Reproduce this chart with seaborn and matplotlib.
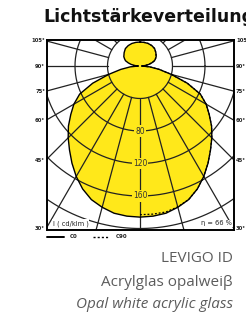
import numpy as np
import matplotlib
matplotlib.use("Agg")
import matplotlib.pyplot as plt
import seaborn as sns

# ---- data (cd/klm) ----
angles_deg = [0, 5, 10, 15, 20, 25, 30, 35, 40, 45, 50, 55, 60, 65, 70, 75, 80, 85, 90,
              95, 100, 105, 110, 115, 120, 130, 140, 150, 160, 170, 180]
c0_values = [186, 185.5, 184, 180, 175, 167, 157, 146, 135, 125, 115, 104, 94, 82, 62, 40, 24, 12, 2,
             6, 11, 15, 19, 21, 23, 25.5, 28, 29, 29.5, 29.5, 29.5]
c90_values = [183, 183, 182.5, 179.5, 175, 167, 157, 146, 135, 125, 115, 104, 94, 82, 62, 40, 24, 12, 2,
              6, 11, 15, 19, 21, 23, 25.5, 28, 29, 29.5, 29.5, 29.5]
ring_values = [40, 80, 120, 160, 200]
ring_labels = ["80", "120", "160"]
side_angles = [105, 90, 75, 60, 45, 30]
spoke_angles = list(range(-180, 181, 15))
title = "Lichtstärkeverteilung"
unit_label = "I ( cd/klm )"
eta_label = "η = 66 %"
legend_labels = ["C0", "C90"]
product_lines = ["LEVIGO ID", "Acrylglas opalweiβ", "Opal white acrylic glass"]

sns.set_theme(style="white")
plt.rcParams["font.family"] = ["DejaVu Sans"]

fig = plt.figure(figsize=(2.46, 3.13), dpi=100)
W, H = 246, 313
x0, x1, ytop, ybot = 47, 234, 40, 230
ax = fig.add_axes([x0 / W, 1 - ybot / H, (x1 - x0) / W, (ybot - ytop) / H])
scale = 0.8125  # px per cd/klm
XL = (x0 - 140) / scale
XR = (x1 - 140) / scale
YT = (66 - ytop) / scale
YB = -(ybot - 66) / scale
ax.set_xlim(XL, XR)
ax.set_ylim(YB, YT)
ax.set_xticks([])
ax.set_yticks([])
for s in ax.spines.values():
    s.set_linewidth(1.4)
    s.set_color("black")
ax.set_facecolor("white")


def mirror(ang, val):
    a = np.radians(np.array(ang, float))
    v = np.array(val, float)
    th = np.concatenate([-a[::-1], a[1:]])
    r = np.concatenate([v[::-1], v[1:]])
    return r * np.sin(th), -r * np.cos(th)

# fill + curves
cx, cy = mirror(angles_deg, c0_values)
ax.fill(cx, cy, color="#ffe81a", zorder=1, lw=0)

# grid rings
t = np.linspace(0, 2 * np.pi, 400)
for rv in ring_values:
    ax.plot(rv * np.cos(t), rv * np.sin(t), color="#222222", lw=0.9, zorder=2)
# spokes from r=40 outward
for a in spoke_angles:
    ar = np.radians(a)
    ax.plot([40 * np.sin(ar), 400 * np.sin(ar)], [-40 * np.cos(ar), -400 * np.cos(ar)],
            color="#222222", lw=0.9, zorder=2)

sns.lineplot(x=cx, y=cy, sort=False, estimator=None, color="black", lw=1.0, ax=ax, zorder=3)
dx, dy = mirror(angles_deg, c90_values)
half = dx >= 0
sns.lineplot(x=dx[half], y=dy[half], sort=False, estimator=None, color="black", lw=0.9,
             linestyle=(0, (1.5, 1.5)), ax=ax, zorder=3)

# ring labels
for lab, rv in zip(ring_labels, ring_values[1:4]):
    ax.text(0, -rv, lab, ha="center", va="center", fontsize=5.5, color="#333333", zorder=4,
            bbox=dict(boxstyle="square,pad=0.15", fc="#ffe81a", ec="none"))

# side angle labels
for a in side_angles:
    ar = np.radians(a)
    yy = XR * np.cos(np.pi - ar) / np.sin(ar) if a != 90 else 0
    ypx = 66 - yy * scale
    fig.text((x0 - 2) / W, 1 - ypx / H, f"{a}°", ha="right", va="center", fontsize=3.8,
             weight="bold", color="#222222")
    fig.text((x1 + 2) / W, 1 - ypx / H, f"{a}°", ha="left", va="center", fontsize=3.8,
             weight="bold", color="#222222")

ax.text(0.03, 0.035, unit_label, transform=ax.transAxes, fontsize=4.8, color="#222222",
        ha="left", va="center", zorder=5,
        bbox=dict(boxstyle="square,pad=0.1", fc="white", ec="none"))
ax.text(0.99, 0.035, eta_label, transform=ax.transAxes, fontsize=4.8, color="#222222",
        ha="right", va="center", zorder=5,
        bbox=dict(boxstyle="square,pad=0.1", fc="white", ec="none"))

# legend
ly = 1 - 237 / H
fig.add_artist(plt.Line2D([47 / W, 64 / W], [ly, ly], color="black", lw=1.4))
fig.text(70 / W, ly, legend_labels[0], fontsize=4, weight="bold", va="center", color="#222222")
fig.add_artist(plt.Line2D([93 / W, 108 / W], [ly, ly], color="black", lw=1.0,
                          linestyle=(0, (1.5, 1.5))))
fig.text(116 / W, ly, legend_labels[1], fontsize=4, weight="bold", va="center", color="#222222")

# title
fig.text(43 / W, 1 - 17 / H, title, ha="left", va="center", fontsize=12.5, weight="bold",
         color="#111111")

# product text
for i, (txt, yb) in enumerate(zip(product_lines, [262, 286, 308])):
    fig.text(233 / W, 1 - yb / H, txt, ha="right", va="baseline", fontsize=11,
             family="Open Sans", weight="normal", style="italic" if i == 2 else "normal",
             color="#5c5c5c")

fig.savefig("out.png", dpi=100)
